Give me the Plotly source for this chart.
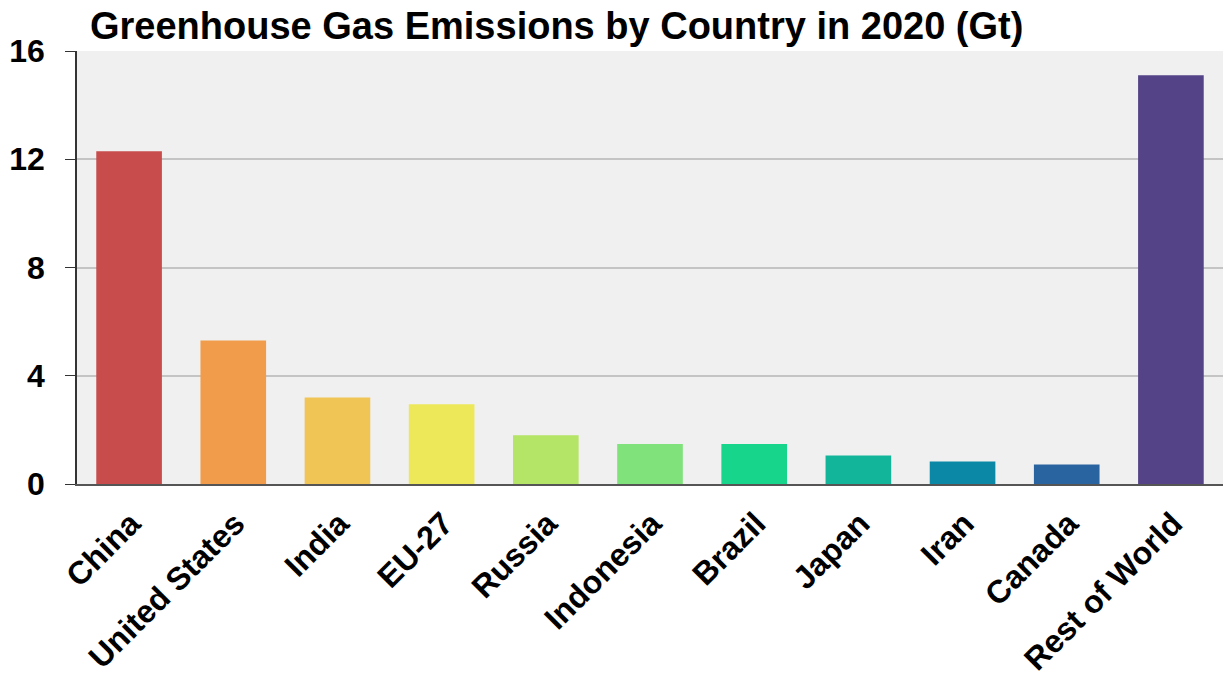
import plotly.graph_objects as go

countries = ["China", "United States", "India", "EU-27", "Russia", "Indonesia",
             "Brazil", "Japan", "Iran", "Canada", "Rest of World"]
emissions = [12.3, 5.3, 3.2, 2.95, 1.8, 1.48, 1.48, 1.05, 0.83, 0.72, 15.1]
colors = ["#c94c4c", "#f09c4a", "#f0c455", "#ede85a", "#b5e566", "#80e27a",
          "#17d68b", "#13b59a", "#0a88a6", "#2a64a0", "#544487"]
y_ticks = [0, 4, 8, 12, 16]

fig = go.Figure(go.Bar(x=countries, y=emissions, marker_color=colors,
                       marker_line_width=0, width=0.63))

fig.update_layout(
    width=1225, height=682,
    margin=dict(l=77, r=2, t=51, b=198),
    paper_bgcolor="white", plot_bgcolor="#f0f0f0",
    font=dict(family="Liberation Sans, Arial, sans-serif", color="black"),
    title=dict(text="<b>Greenhouse Gas Emissions by Country in 2020 (Gt)</b>",
               x=0, xref="paper", xanchor="left", y=0.962, yanchor="middle",
               pad=dict(l=13),
               font=dict(size=38, color="black")),
    showlegend=False, bargap=0.37,
)
fig.update_xaxes(tickangle=-45, tickfont=dict(size=32, color="black"),
                 ticklabelstandoff=6, ticklabelshift=2,
                 showline=True, linecolor="#555555", linewidth=2,
                 ticks="", showgrid=False,
                 ticktext=[f"<b>{c}</b>" for c in countries], tickvals=countries)
fig.update_yaxes(range=[0, 16], tickvals=y_ticks, ticktext=[f"<b>{v}</b>" for v in y_ticks],
                 tickfont=dict(size=32, color="black"),
                 showline=True, linecolor="#333333", linewidth=1.5,
                 ticks="outside", ticklen=10, tickcolor="#333333",
                 ticklabelstandoff=14,
                 showgrid=True, gridcolor="#c4c4c4", gridwidth=1.5,
                 zeroline=False)

fig.write_html("out.html")
